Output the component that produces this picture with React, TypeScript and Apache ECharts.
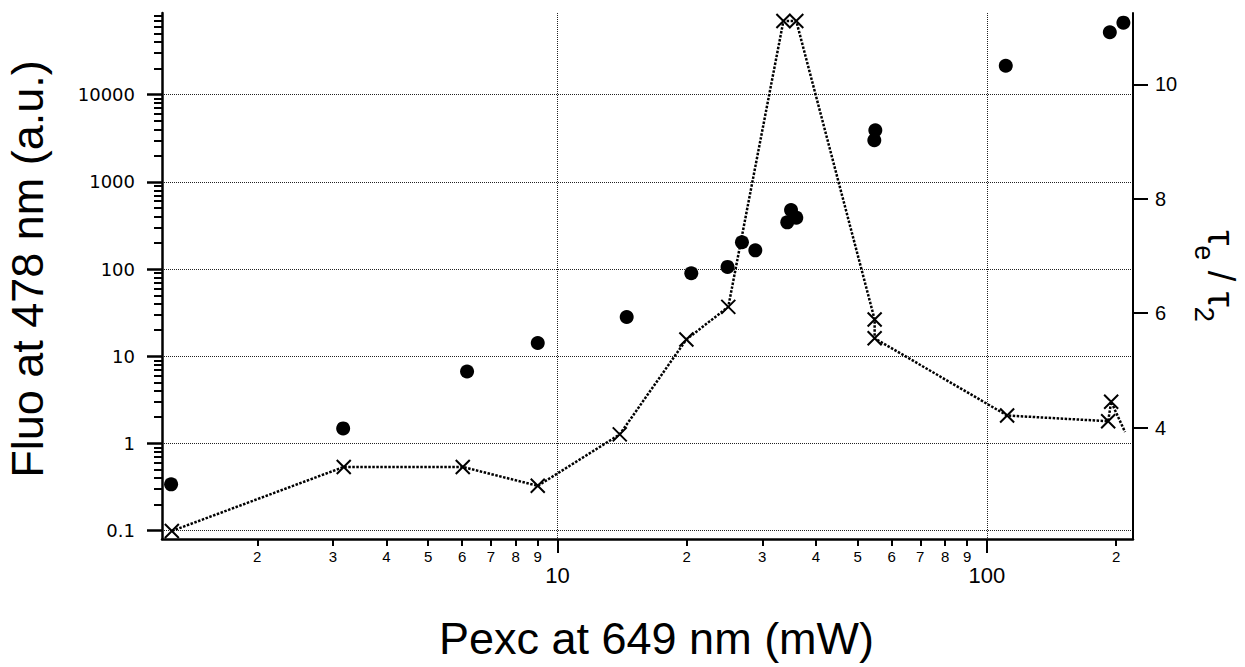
import React, { useEffect, useRef } from "react";
import * as echarts from "echarts";

// Filled circles: fluorescence at 478 nm (left log axis)
const fluoX = [1.26, 3.17, 6.16, 9.0, 14.5, 20.5, 24.9, 26.9, 28.9, 34.3, 35.0, 36.0, 54.7, 55.0, 110.7, 193.4, 208];
const fluoY = [0.34, 1.49, 6.7, 14.2, 28.2, 89.5, 106, 203, 164, 344, 476, 389, 3000, 3900, 21500, 52000, 67000];

// Crosses joined by a dotted line: tau_e / tau_2 (right axis)
const tauX = [1.265, 3.18, 6.02, 9.0, 13.97, 19.97, 25.0, 33.6, 36.0, 54.8, 54.8, 111.5, 191.7, 194.8, 209.9];
const tauY = [2.19, 3.31, 3.31, 2.98, 3.88, 5.54, 6.11, 11.11, 11.11, 5.89, 5.56, 4.21, 4.11, 4.45, 3.92];
const tauMarked = [true, true, true, true, true, true, true, true, true, true, true, true, true, true, false];

// Axis ticks / labels
const xMajor = [10, 100];
const xMinor = [2, 3, 4, 5, 6, 7, 8, 9, 20, 30, 40, 50, 60, 70, 80, 90, 200];
const yMajor = [0.1, 1, 10, 100, 1000, 10000];
const yMinor = [0.2, 0.3, 0.4, 0.5, 0.6, 0.7, 0.8, 0.9, 2, 3, 4, 5, 6, 7, 8, 9, 20, 30, 40, 50, 60, 70, 80, 90, 200, 300, 400, 500, 600, 700, 800, 900, 2000, 3000, 4000, 5000, 6000, 7000, 8000, 9000, 20000, 30000, 40000, 50000, 60000, 70000, 80000];
const rightTicks = [4, 6, 8, 10];

const X_MIN = 1.2;
const X_MAX = 219;
const YL_MIN = 0.0803;
const YL_MAX = 86500;
const YR_MIN = 2.05;
const YR_MAX = 11.25;

const FONT = "Liberation Sans";
const CROSS = "path://M0,0L10,10M10,0L0,10";

export default function App() {
  const ref = useRef<HTMLDivElement>(null);
  useEffect(() => {
    if (!ref.current) return;
    const chart = echarts.init(ref.current, undefined, { renderer: "svg" });
    const black = "#000";
    const grid = "#222";
    const leadDigit = (v: number) => {
      const e = Math.floor(Math.log10(v) + 1e-9);
      return String(Math.round(v / Math.pow(10, e)));
    };
    const option: any = {
      animation: false,
      backgroundColor: "#fff",
      grid: { left: 162, top: 13, width: 971, height: 526, containLabel: false, outerBoundsMode: "none" },
      xAxis: [
        {
          type: "log",
          min: X_MIN,
          max: X_MAX,
          position: "bottom",
          name: "Pexc at 649 nm (mW)",
          nameLocation: "middle",
          nameGap: 77,
          nameMoveOverlap: false,
          nameTextStyle: { fontFamily: FONT, fontSize: 45, color: black, padding: [0, 0, 0, 18] },
          axisLine: { show: true, lineStyle: { color: black, width: 2.5 } },
          axisTick: { show: true, customValues: xMajor, length: 14, lineStyle: { color: black, width: 2 } },
          axisLabel: {
            customValues: xMajor,
            margin: 25,
            fontFamily: FONT,
            fontSize: 22,
            color: black,
            formatter: (v: number) => String(Math.round(v)),
          },
          splitLine: { show: true, lineStyle: { color: grid, width: 1, type: "dotted" } },
          minorTick: { show: false },
        },
        {
          type: "log",
          min: X_MIN,
          max: X_MAX,
          position: "bottom",
          axisLine: { show: false },
          axisTick: { show: true, customValues: xMinor, length: 7, lineStyle: { color: black, width: 2 } },
          axisLabel: {
            customValues: xMinor,
            margin: 10,
            fontFamily: FONT,
            fontSize: 15,
            color: black,
            formatter: (v: number) => leadDigit(v),
          },
          splitLine: { show: false },
        },
      ],
      yAxis: [
        {
          type: "log",
          min: YL_MIN,
          max: YL_MAX,
          position: "left",
          name: "Fluo at 478 nm (a.u.)",
          nameLocation: "middle",
          nameGap: 112,
          nameRotate: 90,
          nameMoveOverlap: false,
          nameTextStyle: { fontFamily: FONT, fontSize: 45, color: black, padding: [0, 0, 0, 14] },
          axisLine: { show: true, lineStyle: { color: black, width: 2.5 } },
          axisTick: { show: true, customValues: yMajor, length: 15, lineStyle: { color: black, width: 2.5 } },
          axisLabel: {
            customValues: yMajor,
            margin: 27,
            fontFamily: "DejaVu Sans",
            fontSize: 18,
            color: black,
            formatter: (v: number) => (v < 1 ? String(v) : String(Math.round(v))),
          },
          splitLine: { show: true, lineStyle: { color: grid, width: 1, type: "dotted" } },
        },
        {
          type: "log",
          min: YL_MIN,
          max: YL_MAX,
          position: "left",
          axisLine: { show: false },
          axisTick: { show: true, customValues: yMinor, length: 8, lineStyle: { color: black, width: 2 } },
          axisLabel: { show: false },
          splitLine: { show: false },
        },
        {
          type: "value",
          min: YR_MIN,
          max: YR_MAX,
          position: "right",
          name: "{t|τ}{s|e}{t| / τ}{s|2}",
          nameLocation: "middle",
          nameGap: 57,
          nameRotate: -90,
          nameMoveOverlap: false,
          nameTextStyle: {
            color: black,
            rich: {
              t: { fontFamily: FONT, fontSize: 38, lineHeight: 38, verticalAlign: "top", color: black },
              s: { fontFamily: FONT, fontSize: 27, lineHeight: 50, verticalAlign: "bottom", color: black },
            },
          },
          axisLine: { show: true, lineStyle: { color: black, width: 2 } },
          axisTick: { show: true, customValues: rightTicks, length: 15, lineStyle: { color: black, width: 2 } },
          axisLabel: {
            customValues: rightTicks,
            margin: 22,
            fontFamily: FONT,
            fontSize: 20,
            color: black,
          },
          splitLine: { show: false },
        },
      ],
      series: [
        {
          type: "line",
          xAxisIndex: 0,
          yAxisIndex: 2,
          data: tauX.map((x, i) =>
            tauMarked[i] ? { value: [x, tauY[i]] } : { value: [x, tauY[i]], symbol: "none" }
          ),
          symbol: CROSS,
          symbolSize: 14,
          showAllSymbol: true,
          lineStyle: { color: black, width: 2.5, type: [2.5, 1.5] },
          itemStyle: { color: "rgba(0,0,0,0)", borderColor: black, borderWidth: 2 },
          z: 3,
        },
        {
          type: "scatter",
          xAxisIndex: 0,
          yAxisIndex: 0,
          data: fluoX.map((x, i) => [x, fluoY[i]]),
          symbol: "circle",
          symbolSize: 14,
          itemStyle: { color: black, opacity: 1 },
          z: 4,
        },
      ],
    };
    chart.setOption(option);
    return () => chart.dispose();
  }, []);
  return (
    <div
      ref={ref}
      style={{ position: "fixed", left: 0, top: 0, width: 1245, height: 667, background: "#fff" }}
    />
  );
}
